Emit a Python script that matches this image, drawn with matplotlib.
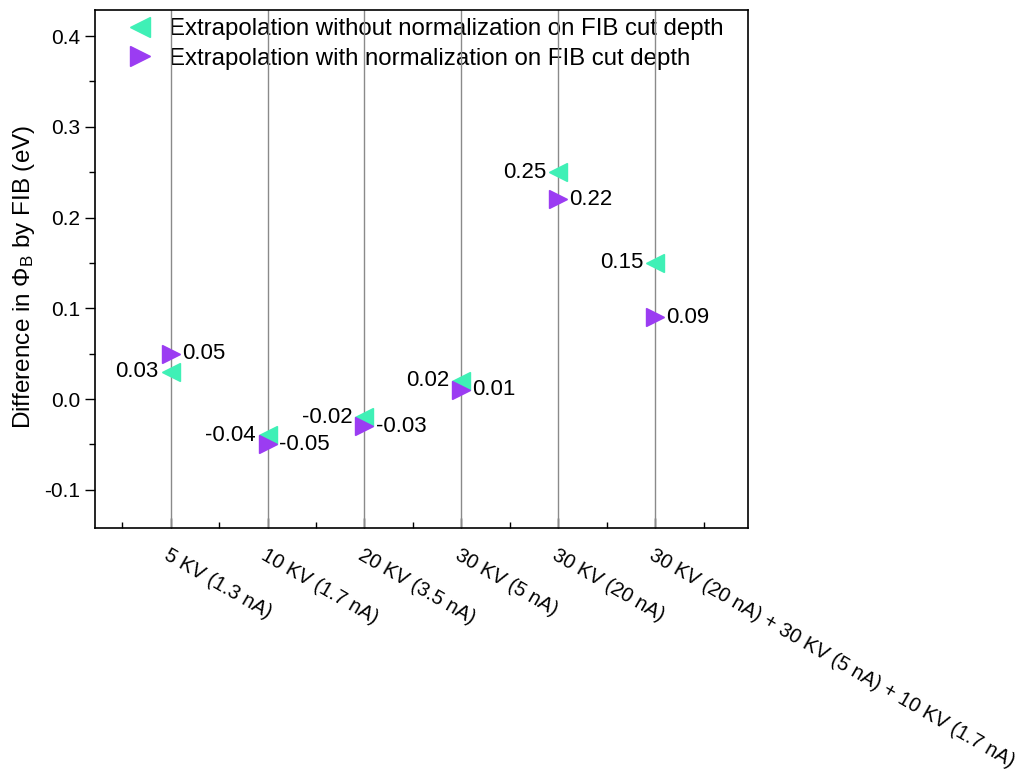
import matplotlib.pyplot as plt
import numpy as np

plt.rcParams['font.family'] = ['Liberation Sans', 'DejaVu Sans']
plt.rcParams['mathtext.fontset'] = 'custom'
plt.rcParams['mathtext.rm'] = 'Liberation Sans'
plt.rcParams['mathtext.it'] = 'Liberation Sans'

# Data
conditions = ["5 KV (1.3 nA)", "10 KV (1.7 nA)", "20 KV (3.5 nA)", "30 KV (5 nA)",
              "30 KV (20 nA)", "30 KV (20 nA) + 30 KV (5 nA) + 10 KV (1.7 nA)"]
without_norm = [0.03, -0.04, -0.02, 0.02, 0.25, 0.15]
with_norm = [0.05, -0.05, -0.03, 0.01, 0.22, 0.09]

green = '#3ff0b6'
purple = '#9b3cf2'

x = np.arange(1, len(conditions) + 1)

fig = plt.figure(figsize=(10.21, 7.74), dpi=100)
ax = fig.add_axes([0.093, 0.318, 0.640, 0.669])

# vertical grid lines at each condition
for xi in x:
    ax.axvline(xi, color='#8a8a8a', lw=1.0, zorder=2)

ax.plot(x, without_norm, linestyle='none', marker='<', ms=13, color=green,
        label='Extrapolation without normalization on FIB cut depth', zorder=3)
ax.plot(x, with_norm, linestyle='none', marker='>', ms=13, color=purple,
        label='Extrapolation with normalization on FIB cut depth', zorder=3)

# value labels
for xi, v in zip(x, without_norm):
    ax.annotate(f'{v:.2f}', (xi, v), xytext=(-8.5, 0), textcoords='offset points',
                ha='right', va='center', fontsize=16)
for xi, v in zip(x, with_norm):
    ax.annotate(f'{v:.2f}', (xi, v), xytext=(8, 0), textcoords='offset points',
                ha='left', va='center', fontsize=16)

ax.set_xlim(0.22, 6.96)
ax.set_ylim(-0.142, 0.4286)
ax.set_yticks([-0.1, 0.0, 0.1, 0.2, 0.3, 0.4])
ax.set_yticklabels(['-0.1', '0.0', '0.1', '0.2', '0.3', '0.4'])
ax.set_yticks([-0.05, 0.05, 0.15, 0.25, 0.35], minor=True)
ax.set_xticks(x)
ax.set_xticklabels(conditions, rotation=-30, ha='left', va='top',
                   rotation_mode='anchor', fontsize=14.5)
ax.set_xticks(np.arange(0.5, 7.0, 1.0), minor=True)

ax.tick_params(axis='y', which='major', direction='out', length=7, width=1, labelsize=15)
ax.tick_params(axis='y', which='minor', direction='out', length=4, width=1)
ax.tick_params(axis='x', which='major', direction='in', length=7, width=1, pad=13)
ax.tick_params(axis='x', which='minor', direction='in', length=4, width=1)

for s in ax.spines.values():
    s.set_linewidth(1.2)

ax.set_ylabel(r'Difference in $\Phi_\mathrm{B}$ by FIB (eV)', fontsize=17.5)
ax.yaxis.set_label_coords(-0.089, 0.485)

leg = ax.legend(loc='upper left', frameon=False, fontsize=17.3, handletextpad=0.4,
                handlelength=1.6, borderaxespad=0.0, labelspacing=0.32,
                markerscale=1.15, bbox_to_anchor=(0.025, 1.003))
leg.set_zorder(1)

fig.savefig('out.png', dpi=100)
